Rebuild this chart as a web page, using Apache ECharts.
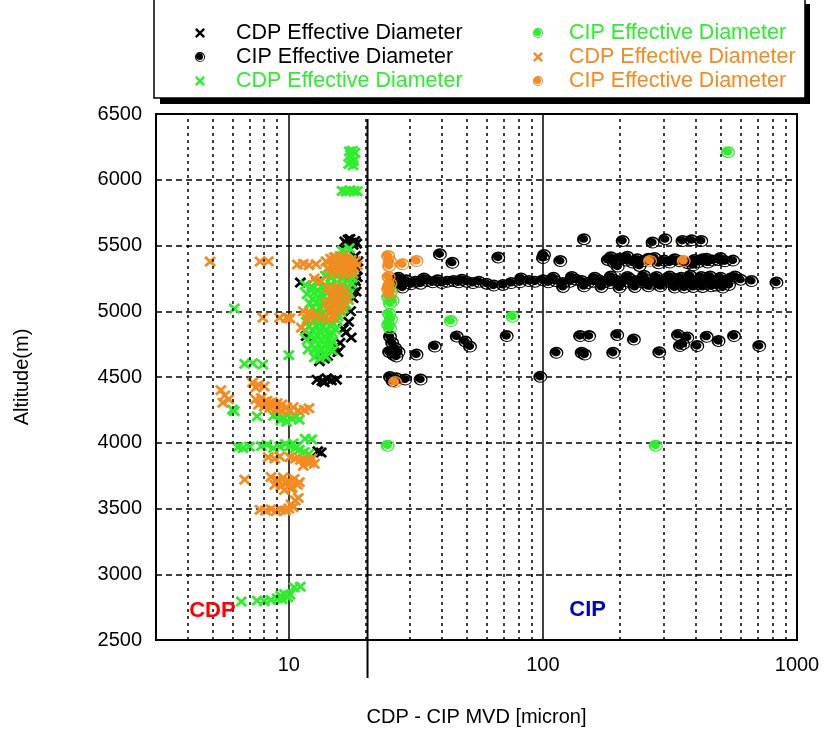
<!DOCTYPE html>
<html><head><meta charset="utf-8">
<script src="https://cdn.jsdelivr.net/npm/echarts@6/dist/echarts.min.js"></script>
<style>html,body{margin:0;padding:0;background:#fff}#c{width:827px;height:733px}</style>
</head><body><div id="c"></div><script>
// ---------- DATA (x = MVD [micron], y = altitude [m]) ----------
const xTickLabels = [10, 100, 1000];
const yTicks = [2500, 3000, 3500, 4000, 4500, 5000, 5500, 6000, 6500];
const minorGridX = [4,5,6,7,8,9,20,30,40,50,60,70,80,90,200,300,400,500,600,700,800,900];
const separatorX = 20.4;

const cdpBlack = [
 [16.6,5530],[17.1,5545],[17.6,5520],[18.2,5535],[17.9,5505],[16.9,5515],[17.4,5550],[18.5,5515],
 [18.3,5420],[18.7,5380],[18.2,5350],[18.5,5320],[18.0,5290],[18.6,5260],[16.5,5265],[17.4,5262],[18.3,5230],[18.1,5190],[18.4,5150],[17.9,5100],
 [11.1,5218],[12.9,5225],
 [17.5,5000],[17.2,4920],[16.4,4865],[16.8,4840],[17.6,4800],[11.7,4811],
 [15.9,4760],[15.3,4730],[14.8,4700],[15.6,4690],[14.2,4660],[13.2,4620],[13.8,4640],
 [12.9,4480],[13.5,4470],[14.1,4490],[14.7,4475],[15.4,4480],[13.8,4460],
 [13.0,3935],[13.4,3925]
];
const cipBlack = [
 [25.5,5230],[26.3,5215],[27.2,5240],[28.0,5220],[29.0,5235],[30.2,5205],[31.5,5225],[33.0,5210],[35.0,5230],[36.8,5220],[38.5,5235],[40.0,5215],[42.0,5225],[44.5,5230],[46.5,5220],[48.0,5240],[50.0,5225],[53.0,5215],[56.0,5225],[60.0,5210],[64.0,5195],[69.6,5200],[75,5215],[81,5220],[88,5230],[93,5225],[100,5235],[105,5220],[112,5230],[120,5215],[128,5225],[135,5240],[142,5230],[150,5215],[158,5225],[166,5235],[175,5220],[184,5215],[190,5240],[198,5225],[205,5205],[212,5230],[220,5245],[228,5215],[236,5230],[245,5220],[255,5240],[265,5210],[275,5225],[285,5235],[295,5215],[305,5230],[318,5220],[330,5245],[342,5210],[355,5225],[370,5235],[385,5215],[400,5230],[415,5220],[430,5240],[448,5210],[465,5225],[485,5235],[505,5215],[525,5230],[548,5250],[570,5265],[600,5240],[662,5230],[830,5218],
 [120,5185],[200,5180],[260,5190],[330,5180],[390,5185],[460,5190],[510,5180],[28,5180],[145,5190],[170,5185],[230,5185],[290,5190],[360,5180],[425,5185],[480,5195],[540,5200],
 [130,5260],[160,5255],[185,5265],[215,5260],[250,5270],[280,5260],[315,5265],[350,5255],[380,5270],[420,5260],[455,5265],[500,5255],[110,5255],[82,5250],[34,5250],[27,5255],
 [100,5405],[117,5382],[180,5390],[190,5370],[200,5400],[212,5385],[225,5370],[235,5395],[248,5380],[260,5400],[285,5365],[300,5385],[315,5370],[330,5395],[345,5380],[372,5365],[395,5390],[410,5375],[425,5395],[445,5370],[465,5385],[490,5390],[520,5380],[560,5385],[197,5340],[240,5345],[390,5350],[185,5410],[215,5415],[275,5405],[440,5400],[500,5405],
 [145,5548],[206,5535],[270,5523],[303,5548],[354,5535],[385,5540],[420,5535],
 [39.3,5433],[44,5369],[66.7,5408],[101,5428],
 [25,4808],[25.5,4760],[26.2,4720],[24.8,4690],[25.8,4670],[27,4690],[26.5,4656],
 [31.8,4671],[37.5,4732],[45.8,4808],[49.5,4770],[51.6,4732],[72,4811],[113,4684],[140,4811],[152,4811],[142,4684],[146,4671],[189,4684],[196,4820],[228,4785],[287,4689],[340,4820],[370,4800],[346,4735],[405,4735],[441,4806],[491,4773],[565,4811],[710,4735],[356,4750],
 [25,4500],[25.6,4470],[26.5,4490],[28.7,4481],[33,4481],[97.6,4501]
];
const cdpGreen = [
 [17.3,6215],[17.8,6220],[18.2,6205],[17.5,6190],[17.6,6135],[18.0,6145],[17.2,6120],[17.9,6110],
 [16.2,5915],[16.8,5910],[17.4,5920],[18.0,5915],[18.6,5912],
 [16.2,5460],[16.8,5440],[17.3,5480],[15.9,5420],
 [15.6,5390],[16.3,5375],[17.0,5395],[17.6,5370],
 [14.3,5320],[15.1,5330],[15.8,5310],[16.6,5325],[17.4,5315],[18.0,5330],
 [13.9,5270],[14.7,5255],[15.5,5265],[16.3,5250],[17.1,5270],[17.8,5255],
 [11.6,5200],[12.3,5190],[13.0,5210],[13.8,5195],[14.6,5205],[15.4,5185],[16.2,5200],[17.0,5190],[17.7,5210],
 [11.8,5130],[12.6,5140],[13.4,5125],[14.2,5135],[15.0,5120],[15.8,5140],[16.6,5125],[17.3,5135],
 [12.1,5060],[12.9,5070],[13.7,5050],[14.5,5065],[15.3,5055],[16.1,5070],[16.8,5050],
 [12.0,4990],[12.8,5000],[13.6,4985],[14.4,4995],[15.2,4980],[16.0,4995],
 [11.7,4920],[12.5,4930],[13.3,4915],[14.1,4925],[14.9,4910],[15.5,4930],
 [11.6,4850],[12.4,4860],[13.2,4845],[14.0,4855],[14.8,4840],[15.3,4860],
 [11.8,4780],[12.6,4790],[13.4,4775],[14.2,4785],[14.9,4770],
 [11.9,4710],[12.7,4720],[13.5,4705],[14.3,4715],[14.9,4700],
 [12.6,4650],[13.3,4640],[14.0,4655],
 [12.2,5165],[13.0,5160],[13.8,5170],[16.9,5165],[12.4,5095],[13.3,5100],[16.4,5095],[17.2,5085],
 [12.4,5025],[13.2,5030],[15.6,5025],[16.4,5020],[12.1,4955],[12.9,4960],[13.8,4950],[15.6,4960],
 [12.0,4885],[12.8,4890],[13.6,4880],[14.5,4890],[12.2,4815],[13.0,4820],[13.8,4810],[14.6,4815],
 [12.3,4745],[13.1,4750],[13.9,4740],[14.6,4745],[12.9,4680],[13.7,4675],
 [6.1,5020],[10.0,4666],[6.7,4600],[7.2,4605],[7.9,4595],
 [6.0,4252],[6.1,4240],[7.5,4200],[8.7,4205],[9.1,4215],[9.5,4195],[9.9,4210],[10.3,4185],[10.7,4200],[9.3,4170],[9.8,4160],[11.0,4175],
 [6.3,3965],[6.6,3960],[7.0,3970],[7.8,3975],[8.2,3985],[8.7,3960],[9.2,3970],[9.7,3990],[10.1,3975],[10.6,3960],[11.0,3945],[11.5,3930],[12.0,3915],[11.6,4030],[12.3,4025],[10.4,3995],
 [6.5,2792],[7.5,2800],[8.0,2795],[8.5,2805],[9.0,2815],[9.3,2835],[9.6,2850],[9.9,2825],[10.1,2845],[10.5,2900],[11.1,2905],[9.4,2810]
];
const cipGreen = [
 [24.8,5190],[25.2,5150],[24.6,5110],[25.6,5080],[25.0,5060],[24.8,4980],[25.2,4940],[24.6,4900],[25.0,4870],
 [43.4,4925],[76,4959],[24.5,3978],[278,3978],[535,6210]
];
const cdpOrange = [
 [4.9,5378],[7.7,5378],[8.3,5380],[10.8,5355],[11.4,5360],[12.0,5350],[12.8,5358],
 [14.0,5380],[14.6,5400],[15.3,5410],[16.0,5395],[16.8,5405],[17.6,5390],[18.3,5380],[14.3,5330],[15.0,5350],[15.7,5340],[16.5,5355],[17.3,5345],[18.0,5330],[18.6,5350],[14.8,5290],[15.6,5300],[16.4,5280],[17.2,5300],[17.9,5285],[15.1,5410],[16.3,5420],
 [13.4,5230],[12.6,5250],
 [14.2,5180],[15.0,5170],[15.8,5185],[16.6,5160],[14.6,5120],[15.4,5110],[16.2,5130],[17.0,5100],[14.0,5060],[14.8,5050],[15.6,5070],[16.4,5040],[14.4,5000],[15.2,4990],[16.0,5010],[15.0,4950],[14.3,4940],
 [11.4,5000],[12.1,4990],[12.8,4970],[13.3,4950],[11.8,4940],[11.2,4875],
 [7.9,4951],[9.2,4951],[9.8,4950],[10.1,4945],
 [5.4,4400],[5.6,4360],[5.5,4305],[5.8,4330],[7.2,4458],[7.6,4440],[8.0,4428],[7.4,4420],
 [7.4,4330],[7.8,4340],[8.2,4320],[8.6,4310],[9.0,4300],[9.4,4290],[9.8,4270],[7.6,4290],[8.0,4275],[8.4,4265],[8.9,4250],[9.3,4245],[10.0,4240],[10.4,4270],[10.9,4245],[11.5,4250],[12.0,4262],
 [8.3,3890],[8.8,3880],[9.2,3895],[10.1,3890],[10.6,3880],[11.1,3870],[11.6,3860],[12.1,3850],[12.6,3840],[12.3,3880],[11.4,3825],
 [6.7,3719],[8.5,3740],[9.0,3720],[9.5,3735],[10.0,3710],[10.5,3725],[11.0,3700],[8.8,3680],[9.3,3670],[9.8,3690],[10.3,3660],[10.8,3680],[9.6,3640],[10.2,3650],
 [7.7,3490],[8.1,3485],[8.5,3495],[8.9,3480],[9.3,3490],[9.7,3485],[10.0,3500],[10.2,3530],[10.6,3560],[10.9,3580],[10.4,3510]
];
const cipOrange = [
 [24.6,5420],[25.0,5380],[24.8,5345],[28.0,5357],[31.8,5382],[24.7,5260],[25.1,5210],[24.6,5170],[25.0,5130],[26.2,4462],[264,5382],[358,5382]
];
const seriesNames = ['CDP black','CIP black','CDP green','CIP green','CDP orange','CIP orange'];
const legendLabels = ['CDP Effective Diameter','CIP Effective Diameter','CDP Effective Diameter','CIP Effective Diameter','CDP Effective Diameter','CIP Effective Diameter'];
const regionLabels = [{text:'CDP', x:5.0, y:2720, color:'#ff0000'},{text:'CIP', x:150, y:2725, color:'#0000cc'}];

// ---------- STYLE ----------
const FONT = "'Liberation Sans', Arial, Helvetica, sans-serif";
const BLACK = '#000000', GREEN = '#2bef2b', ORANGE = '#f68a1e';
const xSym = 'path://M0,1.7L1.7,0L5,3.3L8.3,0L10,1.7L6.7,5L10,8.3L8.3,10L5,6.7L1.7,10L0,8.3L3.3,5Z';
const oSym = 'path://M0,6A6,6 0 1 1 12,6A6,6 0 1 1 0,6Z M1.7,6.4A4.6,4.6 0 1 0 10.9,6.4A4.6,4.6 0 1 0 1.7,6.4Z M1.8,5.7A3.9,3.9 0 1 1 9.6,5.7A3.9,3.9 0 1 1 1.8,5.7Z';
const labelMap = {};
seriesNames.forEach((n,i)=>labelMap[n]=legendLabels[i]);

function scatter(name, data, color, isX){
  return {type:'scatter', name, data, symbol: isX?xSym:oSym,
    symbolSize: isX?[12,11]:[14,12], itemStyle:{color, opacity:1},
    z:3, silent:true, emphasis:{disabled:true}};
}

const chart = echarts.init(document.getElementById('c'));
const legendText = {fontFamily:FONT, fontSize:21.5, lineHeight:24};
const option = {
  animation:false,
  grid:{left:156, right:30, top:114, bottom:93, show:true, borderColor:'#000', borderWidth:2, backgroundColor:'transparent'},
  xAxis:{type:'log', logBase:10, min:3, max:1000,
    name:'CDP - CIP MVD [micron]', nameLocation:'middle', nameGap:67,
    nameTextStyle:{fontFamily:FONT, fontSize:20, color:'#000'},
    axisLine:{show:true, lineStyle:{color:'#000', width:2}}, axisTick:{show:false},
    axisLabel:{fontFamily:FONT, fontSize:20, color:'#000', margin:15,
      formatter:v=>{const r=Math.round(v); return (xTickLabels.includes(r)&&Math.abs(v-r)<1e-6)?String(r):'';}},
    splitLine:{show:true, lineStyle:{color:'#000', width:1.5, type:'solid'}}},
  yAxis:{type:'value', min:2500, max:6500, interval:500,
    name:'Altitude(m)', nameLocation:'middle', nameGap:124,
    nameTextStyle:{fontFamily:FONT, fontSize:20, color:'#000'},
    axisLine:{show:true, lineStyle:{color:'#000', width:2}}, axisTick:{show:false},
    axisLabel:{fontFamily:FONT, fontSize:20, color:'#000', margin:14,
      formatter:v=>yTicks.includes(v)?String(v):''},
    splitLine:{show:true, lineStyle:{color:'#000', width:1.5, type:[6,4]}}},
  legend:[
    {orient:'vertical', left:190, top:16, itemGap:0, itemWidth:10, itemHeight:10,
     selectedMode:false, formatter:n=>labelMap[n],
     textStyle:Object.assign({padding:[0,0,0,26]}, legendText),
     data:[{name:seriesNames[0], icon:xSym, textStyle:{color:BLACK}},
           {name:seriesNames[1], icon:oSym, textStyle:{color:BLACK}},
           {name:seriesNames[2], icon:xSym, textStyle:{color:GREEN}}]},
    {orient:'vertical', left:528, top:16, itemGap:0, itemWidth:10, itemHeight:10,
     selectedMode:false, formatter:n=>labelMap[n],
     textStyle:Object.assign({padding:[0,0,0,21]}, legendText),
     data:[{name:seriesNames[3], icon:oSym, textStyle:{color:GREEN}},
           {name:seriesNames[4], icon:xSym, textStyle:{color:ORANGE}},
           {name:seriesNames[5], icon:oSym, textStyle:{color:ORANGE}}]}
  ],
  series:[
    {type:'scatter', name:'minor grid', data:[], silent:true, z:1,
     markLine:{silent:true, animation:false, symbol:['none','none'], label:{show:false},
       lineStyle:{color:'#000', width:1.5, type:[3,4]},
       data:minorGridX.map(v=>({xAxis:v}))}},
    scatter(seriesNames[0], cdpBlack, BLACK, true),
    scatter(seriesNames[1], cipBlack, BLACK, false),
    scatter(seriesNames[2], cdpGreen, GREEN, true),
    scatter(seriesNames[3], cipGreen, GREEN, false),
    scatter(seriesNames[4], cdpOrange, ORANGE, true),
    scatter(seriesNames[5], cipOrange, ORANGE, false)
  ]
};
chart.setOption(option);

// decorations positioned through the chart's own scales
const sepX = chart.convertToPixel({xAxisIndex:0}, separatorX);
const gridTop = 114, gridBottom = 733-93;
const graphics = [
  {type:'rect', z:0, shape:{x:160, y:4, width:650, height:100}, style:{fill:'#000'}},
  {type:'rect', z:1, shape:{x:154, y:-5, width:651, height:103}, style:{fill:'#fff', stroke:'#000', lineWidth:1.5}},
  {type:'line', z:10, shape:{x1:sepX, y1:gridTop+5, x2:sepX, y2:gridBottom+38}, style:{stroke:'#000', lineWidth:2}}
];
regionLabels.forEach(l=>{
  const p = chart.convertToPixel({xAxisIndex:0, yAxisIndex:0}, [l.x, l.y]);
  graphics.push({type:'text', z:10, x:p[0], y:p[1], style:{text:l.text, fill:l.color,
    font:"bold 22px 'Liberation Sans', Arial, sans-serif", align:'center', verticalAlign:'middle'}});
});
chart.setOption({graphic:graphics});
</script></body></html>
